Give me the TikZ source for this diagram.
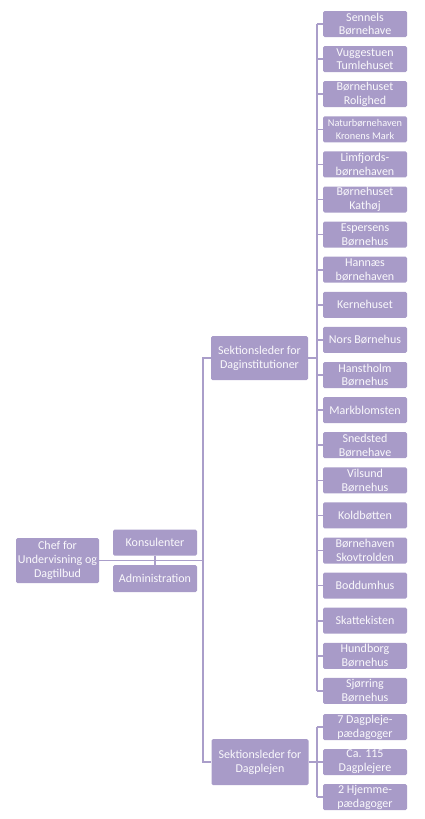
\documentclass[tikz,border=0pt]{standalone}
\usepackage{fontspec}
\setmainfont{Carlito}
\usetikzlibrary{positioning,calc}
\definecolor{orgfill}{RGB}{168,155,200}
\definecolor{orgline}{RGB}{170,158,202}
\tikzset{
  obox/.style={fill=orgfill, rounded corners=1.5pt, text=white!94!orgfill,
               font=\fontsize{12}{13.8}\selectfont, align=center, inner sep=0pt},
  kid/.style={obox, minimum width=84pt, minimum height=26pt},
  sect/.style={obox, minimum width=97pt, minimum height=44pt},
  small/.style={font=\fontsize{10.3}{12.5}\selectfont},
  conn/.style={orgline, line width=1.6pt},
}
\begin{document}
\begin{tikzpicture}[x=1pt,y=-1pt]
  \useasboundingbox (0,0) rectangle (425,819);
  % top level
  \node[obox, minimum width=83pt, minimum height=45pt] (chef) at (57.5,560.5)
    {Chef for\\Undervisning og\\Dagtilbud};
  \node[kid] (kons) at (155,542.5) {Konsulenter};
  \node[kid, minimum height=27pt] (adm) at (155,578.5) {Administration};
  % sections
  \node[sect] (sdi) at (259.5,358) {Sektionsleder for\\Daginstitutioner};
  \node[sect, minimum height=46pt] (sdp) at (260,762) {Sektionsleder for\\Dagplejen};
  % daginstitutioner
  \foreach \t/\s [count=\i] in {{Sennels\\Børnehave}/,{Vuggestuen\\Tumlehuset}/,
      {Børnehuset\\Rolighed}/,{Naturbørnehaven\\Kronens Mark}/small,
      {Limfjords-\\børnehaven}/,{Børnehuset\\Kathøj}/,{Espersens\\Børnehus}/,
      {Hannæs\\børnehaven}/,{Kernehuset}/,{Nors Børnehus}/,{Hanstholm\\Børnehus}/,
      {Markblomsten}/,{Snedsted\\Børnehave}/,{Vilsund\\Børnehus}/,{Koldbøtten}/,
      {Børnehaven\\Skovtrolden}/,{Boddumhus}/,{Skattekisten}/,{Hundborg\\Børnehus}/,
      {Sjørring\\Børnehus}/}
    \node[kid,\s] (d\i) at (365,{24+(\i-1)*35.1}) {\t};
  % dagplejen
  \node[kid] (p1) at (365,727) {7 Dagpleje-\\pædagoger};
  \node[kid] (p2) at (365,762) {Ca. 115\\Dagplejere};
  \node[kid] (p3) at (365,797) {2 Hjemme-\\pædagoger};
  % connectors
  \coordinate (tl) at (203,0);
  \coordinate (tr) at (317,0);
  \draw[conn] (sdi.west) -- (sdi.west -| tl) -- (sdp.west -| tl) -- (sdp.west);
  \draw[conn] (chef.east) -- (chef.east -| tl);
  \draw[conn] (kons.south) -- (kons.south |- chef.east);
  \draw[conn] (adm.north) -- (adm.north |- chef.east);
  \draw[conn] (sdi.east) -- (sdi.east -| tr);
  \draw[conn] (d1.west -| tr) -- (d20.west -| tr);
  \foreach \i in {1,...,20}
    \draw[conn] (d\i.west -| tr) -- (d\i.west);
  \draw[conn] (sdp.east) -- (sdp.east -| tr);
  \draw[conn] (p1.west -| tr) -- (p3.west -| tr);
  \foreach \i in {1,2,3}
    \draw[conn] (p\i.west -| tr) -- (p\i.west);
\end{tikzpicture}
\end{document}
